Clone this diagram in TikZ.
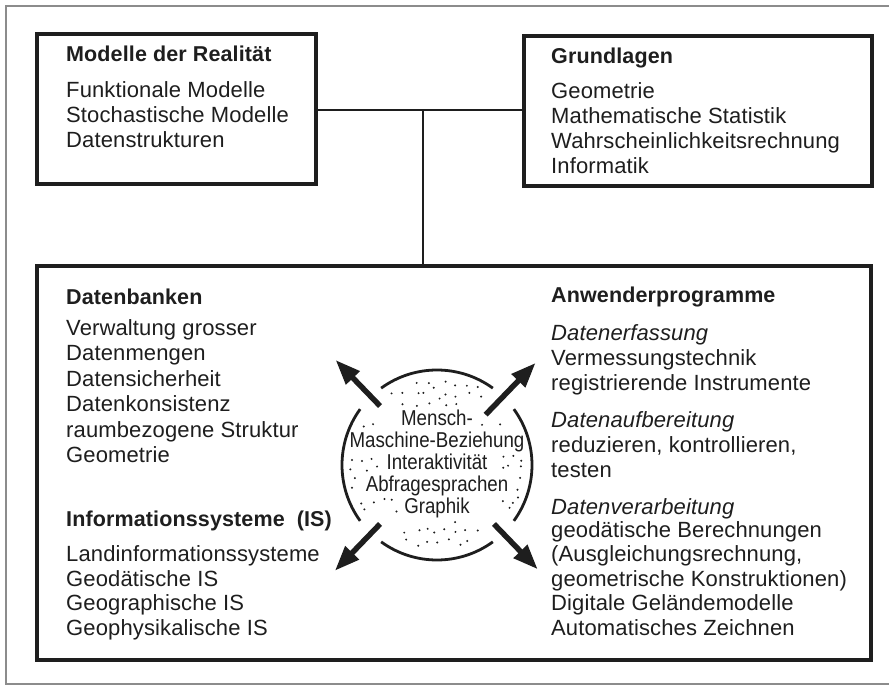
\documentclass[tikz,border=0pt]{standalone}
\usepackage{fontspec}
\setmainfont{Liberation Sans}[LetterSpace=0.6]
\newfontfamily\condfont{Liberation Sans}[FakeStretch=0.87]
\usetikzlibrary{arrows.meta,calc}
\definecolor{ink}{HTML}{1E1E1E}
\definecolor{framegray}{HTML}{8C8C8C}
\begin{document}
\begin{tikzpicture}[x=1pt,y=-1pt,
  txt/.style={anchor=base west, inner sep=0pt, text=ink, font=\fontsize{22}{25}\selectfont},
  hd/.style={txt, font=\fontsize{21.5}{25}\selectfont\bfseries},
  itl/.style={txt, font=\fontsize{22}{25}\selectfont\itshape},
  ctr/.style={anchor=base, inner sep=0pt, text=ink, font=\fontsize{21.5}{25}\selectfont\condfont},
  box/.style={draw=ink, line width=3.5pt, inner sep=0pt, outer sep=0pt},
  conn/.style={draw=ink, line width=1.8pt},
  ring/.style={draw=ink, line width=2.8pt},
  bigarrow/.style={draw=ink, line width=5.5pt, -{Triangle[length=25pt,width=18pt]}},
  framel/.style={draw=framegray, line width=1.3pt},
]
\useasboundingbox (0,0) rectangle (889,687);
\fill[white] (0,0) rectangle (889,687);
% outer frame
\draw[framel] (889,6) -- (6,6) -- (6,684) -- (889,684);

% boxes
\node[box, minimum width=279pt, minimum height=150pt] (mr) at (176.5,109) {};
\node[box, minimum width=348pt, minimum height=150pt] (gl) at (698,111) {};
\node[box, minimum width=834pt, minimum height=394pt] (bx) at (454,463) {};

% connectors
\coordinate (jn) at (423,110);
\draw[conn] (mr.east |- jn) -- (gl.west |- jn);
\draw[conn] (jn) -- (jn |- bx.north);

% top-left text
\node[hd]  (m0) at (66,62)  {Modelle der Realität};
\node[txt] (m1) at (66,98)  {Funktionale Modelle};
\node[txt] (m2) at (66,123) {Stochastische Modelle};
\node[txt] (m3) at (66,148) {Datenstrukturen};

% top-right text
\node[hd]  (g0) at (551,64)  {Grundlagen};
\node[txt] (g1) at (551,99)  {Geometrie};
\node[txt] (g2) at (551,124) {Mathematische Statistik};
\node[txt] (g3) at (551,149) {Wahrscheinlichkeitsrechnung};
\node[txt] (g4) at (551,174) {Informatik};

% bottom-left text
\node[hd]  (d0) at (66,304) {Datenbanken};
\node[txt] (d1) at (66,335) {Verwaltung grosser};
\node[txt] (d2) at (66,360) {Datenmengen};
\node[txt] (d3) at (66,386) {Datensicherheit};
\node[txt] (d4) at (66,411) {Datenkonsistenz};
\node[txt] (d5) at (66,437) {raumbezogene Struktur};
\node[txt] (d6) at (66,462) {Geometrie};
\node[hd]  (i0) at (66,526) {Informationssysteme\hspace{12pt}(IS)};
\node[txt] (i1) at (66,561) {Landinformationssysteme};
\node[txt] (i2) at (66,586) {Geodätische IS};
\node[txt] (i3) at (66,610) {Geographische IS};
\node[txt] (i4) at (66,635) {Geophysikalische IS};

% bottom-right text
\node[hd]  (a0) at (551,302) {Anwenderprogramme};
\node[itl] (a1) at (551,340) {Datenerfassung};
\node[txt] (a2) at (551,365) {Vermessungstechnik};
\node[txt] (a3) at (551,390) {registrierende Instrumente};
\node[itl] (a4) at (551,427) {Datenaufbereitung};
\node[txt] (a5) at (551,452) {reduzieren, kontrollieren,};
\node[txt] (a6) at (551,477) {testen};
\node[itl] (a7) at (551,514) {Datenverarbeitung};
\node[txt] (a8) at (551,537) {geodätische Berechnungen};
\node[txt] (a9) at (551,561) {(Ausgleichungsrechnung,};
\node[txt] (a10) at (551,586) {geometrische Konstruktionen)};
\node[txt] (a11) at (551,610) {Digitale Geländemodelle};
\node[txt] (a12) at (551,635) {Automatisches Zeichnen};

% centre circle
\coordinate (cc) at (437,465);
\draw[ring] ($(cc)+(-36:95)$) arc[start angle=-36, end angle=36, radius=95];
\draw[ring] ($(cc)+(54:95)$) arc[start angle=54, end angle=126, radius=95];
\draw[ring] ($(cc)+(144:95)$) arc[start angle=144, end angle=216, radius=95];
\draw[ring] ($(cc)+(234:95)$) arc[start angle=234, end angle=306, radius=95];

% stipple dots
\pgfmathsetseed{2718}
\foreach \i in {-9,...,9} {
  \foreach \j in {-9,...,9} {
    \pgfmathsetmacro{\dx}{\i*10.5+(rnd-0.5)*7}
    \pgfmathsetmacro{\dy}{\j*10.5+(rnd-0.5)*7+4}
    \pgfmathsetmacro{\rr}{veclen(\dx,\dy)}
    \pgfmathsetmacro{\ang}{atan2(\dy,\dx)}
    \pgfmathsetmacro{\ad}{abs(mod(abs(\ang),90)-45)}
    \pgfmathtruncatemacro{\intext}{(\dy>-58)*(\dy<-37)*(abs(\dx)<42)
      + (\dy>=-37)*(\dy<-11)*(abs(\dx)<95)
      + (\dy>=-11)*(\dy<9)*(abs(\dx)<59)
      + (\dy>=9)*(\dy<32)*(abs(\dx)<77)
      + (\dy>=32)*(\dy<57)*(abs(\dx)<40)}
    \pgfmathtruncatemacro{\inarrow}{(\rr>62)*(\ad<12)}
    \pgfmathtruncatemacro{\keep}{(\rr<88)*(\intext==0)*(\inarrow==0)}
    \ifnum\keep=1 \fill[ink] ($(cc)+(\dx,\dy)$) circle (1.1pt); \fi
  }
}

% centre text
\node[ctr] (c1) at (437,425) {Mensch-};
\node[ctr] (c2) at (437,447) {Maschine-Beziehung};
\node[ctr] (c3) at (437,469) {Interaktivität};
\node[ctr] (c4) at (437,491) {Abfragesprachen};
\node[ctr] (c5) at (437,513) {Graphik};

% arrows
\coordinate (ur0) at ($(cc)+(46:82)$);   \coordinate (ur1) at ($(cc)+(46:145)$);
\coordinate (ul0) at ($(cc)+(134:82)$);  \coordinate (ul1) at ($(cc)+(134:147)$);
\coordinate (ll0) at ($(cc)+(226:82)$);  \coordinate (ll1) at ($(cc)+(226:146)$);
\coordinate (lr0) at ($(cc)+(314:70)$);  \coordinate (lr1) at ($(cc)+(314:142)$);
\draw[bigarrow] (ur0) -- (ur1);
\draw[bigarrow] (ul0) -- (ul1);
\draw[bigarrow] (ll0) -- (ll1);
\draw[bigarrow] (lr0) -- (lr1);
\end{tikzpicture}
\end{document}
